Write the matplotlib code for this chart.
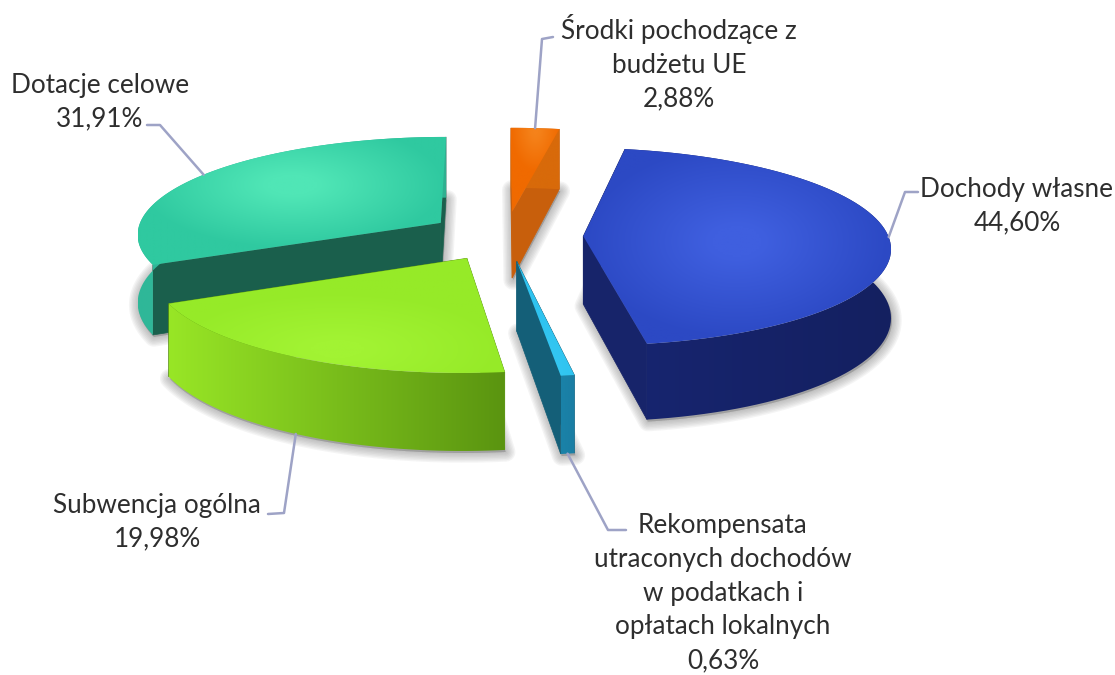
import numpy as np
import matplotlib
matplotlib.use("Agg")
import matplotlib.pyplot as plt
from matplotlib.patches import Polygon
from matplotlib.colors import to_rgb

plt.rcParams['font.family'] = ['Lato', 'DejaVu Sans']

labels = ["Dochody własne\n44,60%",
          "Rekompensata\nutraconych dochodów\nw podatkach i\nopłatach lokalnych\n0,63%",
          "Subwencja ogólna\n19,98%",
          "Dotacje celowe\n31,91%",
          "Środki pochodzące z\nbudżetu UE\n2,88%"]
shares = [44.60, 0.63, 19.98, 31.91, 2.88]

# colours: top edge, top centre, inner wall, outer wall left, outer wall right
top_edge = ['#2c49c4', '#2fc3f0', '#96ea28', '#2fc9a0', '#f06a00']
top_mid = ['#3f5fdf', '#35c8f2', '#a2f333', '#50e6b6', '#f5821a']
inner_wall = ['#17246a', '#145f78', '#5c9612', '#1a5f4c', '#c85f0c']
wall_left = ['#172570', '#1a82a8', '#98e626', '#2fb899', '#d86a0a']
wall_right = ['#142060', '#1a7ea4', '#5a9410', '#2fb090', '#d86a0a']

# text centres and leader elbows, in pixels
text_pos = [(1017, 206), (723, 593), (157, 522), (100, 102), (679, 63)]
elbows = [[(905, 192), (918, 192)], [(608, 530), (626, 530)], [(284, 513), (268, 514)],
          [(160, 125), (147, 125)], [(542, 39), (553, 37)]]

start_cw = 10.2
cx, cy = 505.5, 236
radius = 305
squash = 0.32
persp = 0.105
explode = 0.255
depth = 68


def project(x, y, z=0.0):
    s = 1 / (1 + persp * y)
    return np.array([cx + radius * x * s, cy - radius * squash * y * s + z * s]).T


def blend(c1, c2, t):
    c1, c2 = np.array(to_rgb(c1)), np.array(to_rgb(c2))
    return c1[None, None, :] * (1 - t[..., None]) + c2[None, None, :] * t[..., None]


def fill_image(ax, poly, rgb, box):
    im = ax.imshow(rgb, extent=(box[0], box[2], box[3], box[1]), aspect='auto',
                   interpolation='bilinear', zorder=ax.zo)
    patch = Polygon(poly, closed=True, transform=ax.transData, fc='none', ec='none')
    ax.add_patch(patch)
    im.set_clip_path(patch)
    ax.zo += 1


def radial_face(ax, poly, c_edge, c_mid):
    x0, y0 = poly.min(axis=0)
    x1, y1 = poly.max(axis=0)
    gx, gy = np.meshgrid(np.linspace(x0, x1, 120), np.linspace(y0, y1, 120))
    mx = (x0 + x1) / 2
    my = poly[:, 1].mean()
    d = np.hypot((gx - mx) / max(x1 - x0, 1), (gy - my) / max(y1 - y0, 1)) * 2
    t = np.clip(1.2 * (1 - d), 0, 1)
    fill_image(ax, poly, blend(c_edge, c_mid, t), (x0, y0, x1, y1))


def linear_face(ax, poly, c_left, c_right):
    x0, y0 = poly.min(axis=0)
    x1, y1 = poly.max(axis=0)
    t = np.linspace(0, 1, 200)[None, :]
    fill_image(ax, poly, blend(c_left, c_right, t), (x0, y0, x1, y1))


fig = plt.figure(figsize=(11.15, 6.75), dpi=100)
ax = fig.add_axes([0, 0, 1, 1])
ax.zo = 2
ax.set_xlim(0, 1115)
ax.set_ylim(675, 0)
ax.axis('off')

# wedge angles, clockwise from the top, in the order the slices sit round the pie
ends = start_cw + np.cumsum(shares) * 3.6
starts = np.concatenate([[start_cw], ends[:-1]])

wedges = []
for i in range(len(shares)):
    th = np.radians(np.linspace(starts[i], ends[i], 80))
    mid = np.radians((starts[i] + ends[i]) / 2)
    ox, oy = explode * np.sin(mid), explode * np.cos(mid)
    wedges.append((i, th, ox, oy, mid))

# back slices first
for i in [3, 4, 0, 1, 2]:
    _, th, ox, oy, mid = wedges[i]
    rx, ry = ox + np.sin(th), oy + np.cos(th)
    apex_top = project(np.array([ox]), np.array([oy]))
    apex_bot = project(np.array([ox]), np.array([oy]), depth)
    rim_top = project(rx, ry)
    rim_bot = project(rx, ry, depth)

    # soft shadow from the base of the slice
    base = np.vstack([apex_bot, rim_bot])
    for lw in [14, 12, 10, 8, 6, 4, 2]:
        ax.add_patch(Polygon(base + [1, 2], closed=True, fc='#707070', ec='#707070',
                             lw=lw, alpha=0.07, joinstyle='round', zorder=ax.zo))
    ax.zo += 1

    # radial walls, then the rim wall, then the top
    for edge in (0, -1):
        wall = np.vstack([apex_top, rim_top[edge], rim_bot[edge], apex_bot])
        ax.add_patch(Polygon(wall, closed=True, fc=inner_wall[i], ec=inner_wall[i], lw=0.5, zorder=ax.zo))
        ax.zo += 1
    strip = np.vstack([rim_top, rim_bot[::-1]])
    linear_face(ax, strip, wall_left[i], wall_right[i])
    top = np.vstack([apex_top, rim_top])
    radial_face(ax, top, top_edge[i], top_mid[i])

    anchor = project(np.array([ox + np.sin(mid)]), np.array([oy + np.cos(mid)]),
                     depth if np.cos(mid) < -0.5 else 0.0)[0]
    path = np.vstack([anchor, elbows[i]])
    ax.plot(path[:, 0], path[:, 1], color='#9ea3c6', lw=1.8, zorder=60, solid_capstyle='round')

for lab, (tx, ty) in zip(labels, text_pos):
    ax.text(tx, ty, lab, ha='center', va='center', fontsize=18.8, color='#2e2e2e',
            linespacing=1.44, zorder=70)

ax.set_xlim(0, 1115)
ax.set_ylim(675, 0)
fig.savefig("out.png", dpi=100, facecolor='white')
